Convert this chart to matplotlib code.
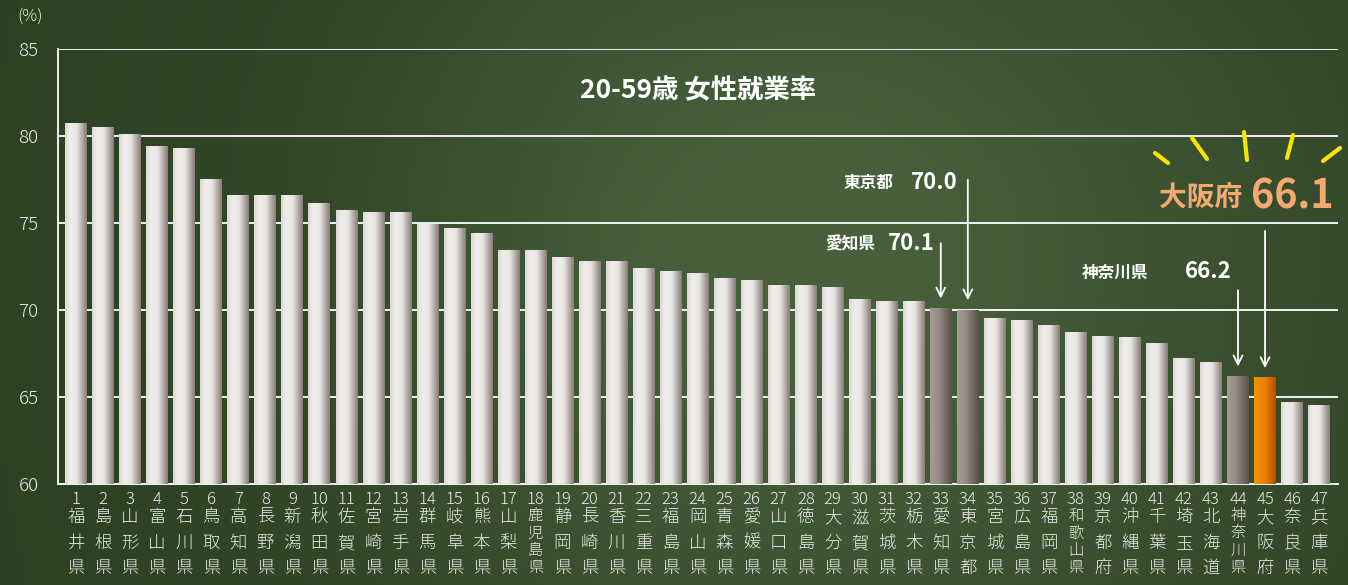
import numpy as np
import matplotlib
matplotlib.use("Agg")
import matplotlib.pyplot as plt
from matplotlib import transforms
from matplotlib.colors import LinearSegmentedColormap

plt.rcParams['font.family'] = ['Noto Sans CJK JP', 'DejaVu Sans']

# データ（20-59歳 女性就業率, %）
prefs = ["福井県", "島根県", "山形県", "富山県", "石川県", "鳥取県", "高知県", "長野県",
         "新潟県", "秋田県", "佐賀県", "宮崎県", "岩手県", "群馬県", "岐阜県", "熊本県",
         "山梨県", "鹿児島県", "静岡県", "長崎県", "香川県", "三重県", "福島県", "岡山県",
         "青森県", "愛媛県", "山口県", "徳島県", "大分県", "滋賀県", "茨城県", "栃木県",
         "愛知県", "東京都", "宮城県", "広島県", "福岡県", "和歌山県", "京都府", "沖縄県",
         "千葉県", "埼玉県", "北海道", "神奈川県", "大阪府", "奈良県", "兵庫県"]
rates = [80.7, 80.5, 80.1, 79.4, 79.3, 77.5, 76.6, 76.6, 76.6, 76.1, 75.7, 75.6,
         75.6, 74.9, 74.7, 74.4, 73.4, 73.4, 73.0, 72.8, 72.8, 72.4, 72.2, 72.1,
         71.8, 71.7, 71.4, 71.4, 71.3, 70.6, 70.5, 70.5, 70.1, 70.0, 69.5, 69.4,
         69.1, 68.7, 68.5, 68.4, 68.1, 67.2, 67.0, 66.2, 66.1, 64.7, 64.5]
highlight = ["愛知県", "東京都", "神奈川県"]
focus = "大阪府"
yticks = [60, 65, 70, 75, 80, 85]

W, H = 1348, 585
fig = plt.figure(figsize=(W / 100, H / 100), dpi=100)

# 黒板風の背景
bg = fig.add_axes([0, 0, 1, 1], zorder=-10)
bg.axis('off')
gx = np.linspace(0, 1, 300)
gy = np.linspace(0, 1, 150)
X, Y = np.meshgrid(gx, gy)
c_dark = np.array([0x2a, 0x3e, 0x21]) / 255
c_light = np.array([0x47, 0x5f, 0x3b]) / 255
t = np.clip(0.15 + 0.9 * np.exp(-((X - 0.6) ** 2) / 0.12 - ((Y - 0.55) ** 2) / 0.5), 0, 1)
t = t * (0.55 + 0.45 * np.clip(X * 2.2, 0, 1))
img = c_dark[None, None, :] * (1 - t[..., None]) + c_light[None, None, :] * t[..., None]
bg.imshow(img, extent=(0, 1, 0, 1), aspect='auto', origin='lower')
bg.set_xlim(0, 1)
bg.set_ylim(0, 1)

ax = fig.add_axes([58 / W, (H - 484) / H, 1280 / W, 435 / H])
ax.patch.set_alpha(0)

x = np.arange(len(rates))
bars = ax.bar(x, rates, width=0.8, color='none', zorder=3)

cm_white = LinearSegmentedColormap.from_list(
    'w', [(0, '#dcd8d4'), (0.25, '#f0eeec'), (0.55, '#e8e5e2'), (1, '#877c78')])
cm_grey = LinearSegmentedColormap.from_list(
    'g', [(0, '#a59b95'), (0.4, '#958a84'), (1, '#5a504c')])
cm_orange = LinearSegmentedColormap.from_list(
    'o', [(0, '#f59300'), (0.5, '#ea8000'), (1, '#bb4c00')])
grad = np.linspace(0, 1, 64)[None, :]

ymin = yticks[0]
for name, b in zip(prefs, bars):
    cm = cm_orange if name == focus else (cm_grey if name in highlight else cm_white)
    ax.imshow(grad, extent=(b.get_x(), b.get_x() + b.get_width(), ymin, b.get_height()),
              cmap=cm, aspect='auto', zorder=3, interpolation='bilinear')

ax.set_xlim(-0.67, len(rates) - 1 + 0.7)
ax.set_ylim(yticks[0], yticks[-1])
ax.set_yticks(yticks)
ax.yaxis.grid(True, color='white', lw=1.3, zorder=1)
ax.set_axisbelow(True)
ax.tick_params(axis='y', length=0, pad=14, labelsize=13.5, labelcolor='#ececec')
ax.set_xticks([])
for s in ['top', 'right']:
    ax.spines[s].set_visible(False)
for s in ['left', 'bottom']:
    ax.spines[s].set_color('white')
    ax.spines[s].set_linewidth(1.3)
for lab in ax.get_yticklabels():
    lab.set_fontweight('light')

fig.text(30 / W, 1 - 16 / H, "(%)", color='#ececec', fontsize=12, ha='center',
         va='center', fontweight='light')

ax.text(np.mean(ax.get_xlim()), 82.6, "20-59歳 女性就業率", color='white',
        fontsize=19, fontweight='bold', ha='center', va='center')

# 横軸ラベル（番号＋縦書き）
tr = transforms.blended_transform_factory(ax.transData, fig.transFigure)
for i, name in enumerate(prefs):
    ax.text(i, 1 - 499 / H, str(i + 1), transform=tr, color='#ececec', fontsize=12,
            fontweight='light', ha='center', va='center', clip_on=False)
    if len(name) == 3:
        rows, fs = [517, 543, 568], 12.5
    else:
        rows, fs = [516, 533.5, 551, 568], 11
    for ch, py in zip(name, rows):
        ax.text(i, 1 - py / H, ch, transform=tr, color='#ececec', fontsize=fs,
                fontweight='light', ha='center', va='center', clip_on=False)

# 注記
def mark(name, y_from, lab_x, lab_y, num_x, big=False):
    i = prefs.index(name)
    v = rates[i]
    ax.annotate('', xy=(i, v + 0.4), xytext=(i, y_from),
                arrowprops=dict(arrowstyle='->', color='white', lw=1.3,
                                mutation_scale=16), zorder=5)
    if big:
        ax.text(lab_x, lab_y, name, color='#f3a96f', fontsize=20, fontweight='bold',
                ha='right', va='center')
        ax.text(num_x, lab_y + 0.1, f"{v:.1f}", color='#f3a96f', fontsize=28.5,
                fontweight='bold', ha='right', va='center')
    else:
        ax.text(lab_x, lab_y, name, color='white', fontsize=12, fontweight='bold',
                ha='right', va='center')
        ax.text(num_x, lab_y + 0.05, f"{v:.1f}", color='white', fontsize=16,
                fontweight='bold', ha='right', va='center')

mark("東京都", 77.65, 30.24, 77.3, 32.64)
mark("愛知県", 74.0, 29.57, 73.75, 31.79)
mark("神奈川県", 71.3, 39.67, 72.15, 42.78)
mark("大阪府", 74.7, 43.15, 76.4, 46.52, big=True)

# 大阪府のキラキラ
rays = [((1155, 153), (1168, 163)), ((1192, 138), (1207, 159)),
        ((1244, 132), (1247, 160)), ((1293, 135), (1287, 158)),
        ((1340, 148), (1323, 161))]
for (x0, y0), (x1, y1) in rays:
    ax.plot([(x0 - 58) / 1280, (x1 - 58) / 1280], [(484 - y0) / 435, (484 - y1) / 435],
            transform=ax.transAxes, color='#f7e400', lw=3, solid_capstyle='round',
            clip_on=False, zorder=6)

fig.savefig("out.png", dpi=100)
